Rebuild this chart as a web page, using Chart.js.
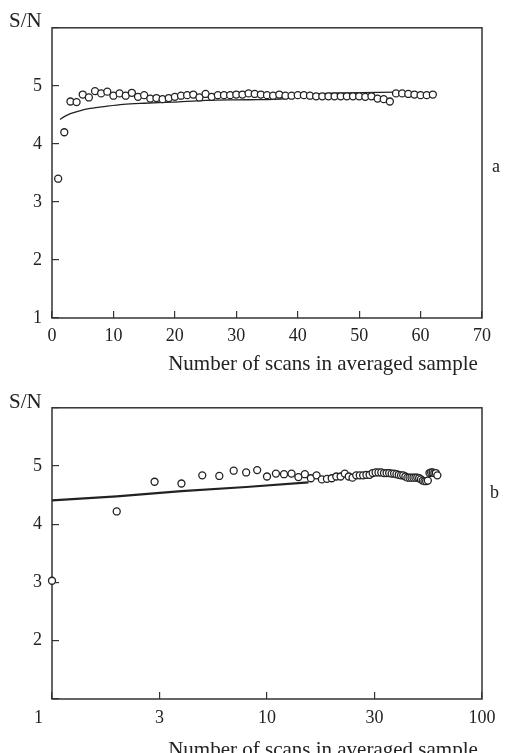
<!DOCTYPE html>
<html>
<head>
<meta charset="utf-8">
<script src="https://cdn.jsdelivr.net/npm/chart.js@4.4.1/dist/chart.umd.min.js"></script>
<style>
  html, body { margin: 0; padding: 0; background: #fff; overflow: hidden; }
  #wrap { position: relative; width: 531px; height: 753px; }
  canvas { position: absolute; left: 0; }
  #chartA { top: 0; }
  #chartB { top: 380px; }
</style>
</head>
<body>
<div id="wrap">
  <canvas id="chartA" width="531" height="380"></canvas>
  <canvas id="chartB" width="531" height="390"></canvas>
</div>
<script>
// panel a: linear scan axis
const scansA = [1, 2, 3, 4, 5, 6, 7, 8, 9, 10,
                11, 12, 13, 14, 15, 16, 17, 18, 19, 20,
                21, 22, 23, 24, 25, 26, 27, 28, 29, 30,
                31, 32, 33, 34, 35, 36, 37, 38, 39, 40,
                41, 42, 43, 44, 45, 46, 47, 48, 49, 50,
                51, 52, 53, 54, 55, 56, 57, 58, 59, 60,
                61, 62];
const snA = [3.40, 4.20, 4.73, 4.72, 4.85, 4.80, 4.91, 4.87, 4.90, 4.83,
             4.87, 4.83, 4.88, 4.81, 4.84, 4.78, 4.79, 4.77, 4.79, 4.81,
             4.83, 4.84, 4.85, 4.80, 4.86, 4.81, 4.84, 4.84, 4.84, 4.85,
             4.85, 4.87, 4.86, 4.85, 4.84, 4.83, 4.85, 4.83, 4.83, 4.84,
             4.84, 4.83, 4.82, 4.82, 4.82, 4.82, 4.82, 4.82, 4.82, 4.82,
             4.81, 4.82, 4.78, 4.77, 4.73, 4.87, 4.87, 4.86, 4.85, 4.84,
             4.84, 4.85];
const fitScansA = [1.3, 2, 3, 4.5, 6.2, 9, 11.6, 15, 19.7, 25, 32, 38, 42, 48, 55.8];
const fitSnA = [4.42, 4.47, 4.52, 4.57, 4.61, 4.65, 4.68, 4.70, 4.72, 4.75, 4.76, 4.78, 4.85, 4.88, 4.89];

// panel b: log scan axis
const scansB = scansA;
const snB = [3.03, 4.22, 4.73, 4.70, 4.84, 4.83, 4.92, 4.89, 4.93, 4.82,
             4.87, 4.86, 4.87, 4.81, 4.86, 4.79, 4.84, 4.77, 4.78, 4.79,
             4.82, 4.82, 4.87, 4.82, 4.80, 4.84, 4.84, 4.84, 4.85, 4.85,
             4.88, 4.89, 4.89, 4.89, 4.88, 4.88, 4.88, 4.87, 4.87, 4.86,
             4.85, 4.84, 4.84, 4.82, 4.80, 4.80, 4.80, 4.80, 4.80, 4.80,
             4.79, 4.77, 4.75, 4.74, 4.74, 4.75, 4.88, 4.89, 4.89, 4.88,
             4.88, 4.84];
const fitScansB = [1, 2, 4, 8, 15.6];
const fitSnB = [4.41, 4.48, 4.57, 4.64, 4.72];

const xTicksB = [1, 3.162, 10, 31.62, 100];
const xTickLabelsB = ['1', '3', '10', '30', '100'];

const FONT = "'Liberation Serif', 'Times New Roman', serif";
const INK = '#222';

function toPoints(xs, ys) {
    return xs.map((x, i) => ({ x: x, y: ys[i] }));
}

// box around plot area plus the S/N and panel letter texts
const framePlugin = {
    id: 'frame',
    beforeDatasetsDraw(chart, args, opts) {
        const { ctx, chartArea: a } = chart;
        ctx.save();
        ctx.strokeStyle = '#333';
        ctx.lineWidth = 1.5;
        ctx.strokeRect(a.left, a.top, a.right - a.left, a.bottom - a.top);
        ctx.restore();
    },
    afterDraw(chart, args, opts) {
        const ctx = chart.ctx;
        ctx.save();
        ctx.fillStyle = INK;
        ctx.textBaseline = 'middle';
        ctx.textAlign = 'left';
        ctx.font = '21px ' + FONT;
        ctx.fillText(opts.yTitle, opts.yTitleX, opts.yTitleY);
        ctx.font = '18px ' + FONT;
        ctx.fillText(opts.panel, opts.panelX, opts.panelY);
        ctx.restore();
    }
};

function yScale(hideBottom) {
    return {
        min: 1,
        max: 6,
        afterFit: s => { s.width = 52; },
        afterBuildTicks: s => { s.ticks = [1, 2, 3, 4, 5, 6].map(v => ({ value: v })); },
        border: { display: false },
        grid: { drawOnChartArea: false, tickLength: -7, color: '#333', lineWidth: 1.2 },
        ticks: {
            padding: 17,
            color: INK,
            font: { family: FONT, size: 18 },
            callback: v => (v === 6 || (hideBottom && v === 1)) ? '' : String(v)
        }
    };
}

// thin space keeps the title's right edge a few px inside the frame
const xTitle = (pad) => ({
    display: true,
    text: 'Number of scans in averaged sample\u2009',
    align: 'end',
    color: INK,
    font: { family: FONT, size: 21 },
    padding: { top: 0, bottom: pad }
});

const markStyle = {
    showLine: false,
    pointRadius: 3.5,
    pointHoverRadius: 3.5,
    pointBorderWidth: 1.3,
    pointBackgroundColor: '#fff',
    pointBorderColor: INK,
    clip: false,
    order: 0
};

new Chart(document.getElementById('chartA'), {
    type: 'scatter',
    data: {
        datasets: [
            Object.assign({ label: 'S/N', data: toPoints(scansA, snA) }, markStyle),
            {
                label: 'fit',
                data: toPoints(fitScansA, fitSnA),
                showLine: true,
                borderColor: INK,
                borderWidth: 1.3,
                pointRadius: 0,
                cubicInterpolationMode: 'monotone',
                order: 1
            }
        ]
    },
    options: {
        responsive: false,
        animation: false,
        events: [],
        layout: { padding: { top: 20, right: 49, left: 0, bottom: 0 } },
        plugins: {
            legend: { display: false },
            tooltip: { enabled: false },
            frame: { yTitle: 'S/N', yTitleX: 9, yTitleY: 21, panel: 'a', panelX: 492, panelY: 167 }
        },
        scales: {
            x: {
                type: 'linear',
                min: 0,
                max: 70,
                afterFit: s => { s.height = 62; },
                border: { display: false },
                grid: { drawOnChartArea: false, tickLength: -7, color: '#333', lineWidth: 1.2 },
                ticks: { stepSize: 10, padding: 14, color: INK, font: { family: FONT, size: 18 } },
                title: xTitle(3)
            },
            y: yScale(false)
        }
    },
    plugins: [framePlugin]
});

new Chart(document.getElementById('chartB'), {
    type: 'scatter',
    data: {
        datasets: [
            Object.assign({ label: 'S/N', data: toPoints(scansB, snB) }, markStyle),
            {
                label: 'fit',
                data: toPoints(fitScansB, fitSnB),
                showLine: true,
                borderColor: INK,
                borderWidth: 2.2,
                pointRadius: 0,
                tension: 0,
                order: 1
            }
        ]
    },
    options: {
        responsive: false,
        animation: false,
        events: [],
        layout: { padding: { top: 19, right: 49, left: 0, bottom: 0 } },
        plugins: {
            legend: { display: false },
            tooltip: { enabled: false },
            frame: { yTitle: 'S/N', yTitleX: 9, yTitleY: 22, panel: 'b', panelX: 490, panelY: 113 }
        },
        scales: {
            x: {
                type: 'logarithmic',
                min: 1,
                max: 100,
                afterFit: s => { s.height = 71; },
                afterBuildTicks: s => { s.ticks = xTicksB.map(v => ({ value: v })); },
                border: { display: false },
                grid: { drawOnChartArea: false, tickLength: -7, color: '#333', lineWidth: 1.2 },
                ticks: {
                    padding: 15,
                    color: INK,
                    font: { family: FONT, size: 18 },
                    // the first label sits left of the axis in the original; trailing spaces shift it
                    callback: (v, i) => i === 0 ? xTickLabelsB[i] + '\u2003\u2002' : xTickLabelsB[i]
                },
                title: xTitle(7)
            },
            y: yScale(true)
        }
    },
    plugins: [framePlugin]
});
</script>
</body>
</html>
